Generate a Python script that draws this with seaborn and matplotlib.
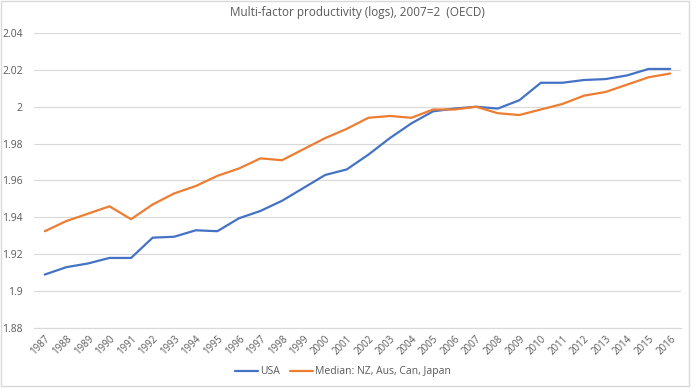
import pandas as pd
import seaborn as sns
import matplotlib.pyplot as plt
from matplotlib.patches import Rectangle
from matplotlib.ticker import FuncFormatter

years = list(range(1987, 2017))
usa = [1.909, 1.913, 1.915, 1.918, 1.918, 1.929, 1.9295, 1.933, 1.9325, 1.9395,
       1.9435, 1.949, 1.956, 1.963, 1.966, 1.974, 1.983, 1.991, 1.9975, 1.999,
       2.000, 1.999, 2.0035, 2.013, 2.013, 2.0145, 2.015, 2.017, 2.0205, 2.0205]
median = [1.9325, 1.938, 1.942, 1.946, 1.939, 1.947, 1.953, 1.957, 1.9625, 1.9665,
          1.972, 1.971, 1.977, 1.983, 1.988, 1.994, 1.995, 1.994, 1.9985, 1.9985,
          2.000, 1.9965, 1.9955, 1.9985, 2.0015, 2.006, 2.008, 2.012, 2.016, 2.018]
series_names = ['USA', 'Median: NZ, Aus, Can, Japan']
yticks = [1.88, 1.9, 1.92, 1.94, 1.96, 1.98, 2.0, 2.02, 2.04]

df = pd.DataFrame({'Year': years, series_names[0]: usa, series_names[1]: median})
long_df = df.melt(id_vars='Year', var_name='Series', value_name='MFP')

sns.set_style('white')
plt.rcParams['font.family'] = ['Open Sans', 'DejaVu Sans']
text_col = '#595959'

fig = plt.figure(figsize=(7, 3.88), dpi=100)
ax = fig.add_axes([0.0486, 0.1546, 0.9243, 0.7604])
sns.lineplot(data=long_df, x='Year', y='MFP', hue='Series',
             palette=['#4472C4', '#ED7D31'], linewidth=1.6, ax=ax)

ax.set_xlim(1986.5, 2016.5)
ax.set_ylim(1.88, 2.04)
ax.set_yticks(yticks)
ax.yaxis.set_major_formatter(FuncFormatter(lambda v, p: '{:g}'.format(round(v, 2))))
ax.set_xticks(years)
ax.set_xticklabels([str(y) for y in years], rotation=45, ha='right',
                   rotation_mode='anchor', fontsize=7, color=text_col)
ax.tick_params(axis='y', labelsize=7.5, labelcolor=text_col, length=0, pad=8)
ax.tick_params(axis='x', length=0, pad=4)
ax.grid(axis='y', color='#D9D9D9', linewidth=0.8)
ax.set_axisbelow(True)
for s in ['top', 'right', 'left']:
    ax.spines[s].set_visible(False)
ax.spines['bottom'].set_color('#D9D9D9')
ax.set_xlabel('')
ax.set_ylabel('')

ax.set_title('Multi-factor productivity (logs), 2007=2  (OECD)',
             fontsize=8.5, color=text_col, pad=12)

# legend sits below the tick labels, centred on the figure
ax.legend(loc='center', bbox_to_anchor=(0.49, 0.042), bbox_transform=fig.transFigure,
          ncol=2, frameon=False, fontsize=7.5, labelcolor=text_col,
          handlelength=2.2, handletextpad=0.2, columnspacing=1.0, borderpad=0)

fig.patches.append(Rectangle((0.001, 0.004), 0.983, 0.994, transform=fig.transFigure,
                             fill=False, edgecolor='#D9D9D9', linewidth=1))

fig.savefig('out.png', dpi=100)
